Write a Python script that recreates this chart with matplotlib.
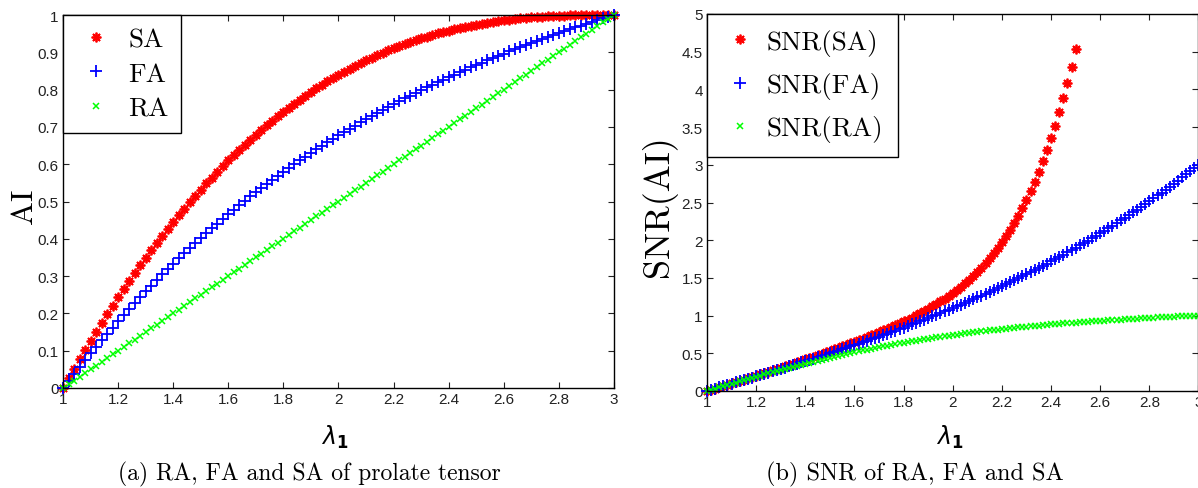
import numpy as np
import matplotlib
matplotlib.use('Agg')
import matplotlib.pyplot as plt
from matplotlib.ticker import FormatStrFormatter

# ---- values ----
# (a) anisotropy indices of a prolate tensor, sampled every 0.02 in lambda_1
lam_a = np.linspace(1, 3, 101)
sa = [0, .0262, .0519, .0773, .1022, .1266, .1507, .1744, .1976, .2204,
      .2428, .2648, .2864, .3076, .3285, .3489, .3689, .3885, .4078, .4267,
      .4452, .4633, .4810, .4984, .5154, .5321, .5484, .5643, .5799, .5951,
      .6100, .6245, .6387, .6526, .6661, .6793, .6922, .7047, .7169, .7288,
      .7404, .7517, .7626, .7733, .7836, .7937, .8034, .8129, .8221, .8310,
      .8396, .8479, .8560, .8638, .8713, .8785, .8855, .8923, .8988, .9050,
      .9110, .9167, .9223, .9275, .9326, .9374, .9420, .9464, .9506, .9546,
      .9584, .9619, .9653, .9685, .9715, .9743, .9769, .9794, .9816, .9838,
      .9857, .9875, .9892, .9907, .9921, .9933, .9944, .9954, .9963, .9971,
      .9977, .9983, .9987, .9991, .9994, .9996, .9998, .9999, 1.0, 1.0, 1.0]
fa = [0, .0190, .0378, .0563, .0746, .0926, .1103, .1278, .1451, .1621,
      .1788, .1953, .2116, .2276, .2434, .2590, .2743, .2894, .3043, .3189,
      .3333, .3475, .3615, .3753, .3889, .4022, .4154, .4283, .4410, .4536,
      .4659, .4781, .4901, .5019, .5135, .5249, .5362, .5473, .5582, .5690,
      .5796, .5900, .6003, .6104, .6203, .6301, .6398, .6493, .6587, .6679,
      .6770, .6860, .6948, .7035, .7121, .7205, .7288, .7370, .7451, .7530,
      .7609, .7686, .7762, .7838, .7912, .7985, .8057, .8127, .8197, .8266,
      .8334, .8401, .8467, .8533, .8597, .8660, .8723, .8785, .8845, .8905,
      .8965, .9023, .9081, .9138, .9194, .9249, .9304, .9358, .9411, .9464,
      .9516, .9567, .9618, .9668, .9717, .9766, .9814, .9861, .9908, .9954, 1.0]
ra = [0.00, 0.01, 0.02, 0.03, 0.04, 0.05, 0.06, 0.07, 0.08, 0.09,
      0.10, 0.11, 0.12, 0.13, 0.14, 0.15, 0.16, 0.17, 0.18, 0.19,
      0.20, 0.21, 0.22, 0.23, 0.24, 0.25, 0.26, 0.27, 0.28, 0.29,
      0.30, 0.31, 0.32, 0.33, 0.34, 0.35, 0.36, 0.37, 0.38, 0.39,
      0.40, 0.41, 0.42, 0.43, 0.44, 0.45, 0.46, 0.47, 0.48, 0.49,
      0.50, 0.51, 0.52, 0.53, 0.54, 0.55, 0.56, 0.57, 0.58, 0.59,
      0.60, 0.61, 0.62, 0.63, 0.64, 0.65, 0.66, 0.67, 0.68, 0.69,
      0.70, 0.71, 0.72, 0.73, 0.74, 0.75, 0.76, 0.77, 0.78, 0.79,
      0.80, 0.81, 0.82, 0.83, 0.84, 0.85, 0.86, 0.87, 0.88, 0.89,
      0.90, 0.91, 0.92, 0.93, 0.94, 0.95, 0.96, 0.97, 0.98, 0.99, 1.00]

# (b) SNR of the indices, sampled every 1/60 in lambda_1 (SA stops at 2.5)
lam_b = np.linspace(1, 3, 121)
snr_sa = [0, .0165, .0331, .0498, .0665, .0834, .1003, .1173, .1344, .1516,
          .1689, .1863, .2037, .2213, .2389, .2566, .2744, .2923, .3102, .3283,
          .3465, .3647, .3830, .4015, .4200, .4387, .4574, .4763, .4953, .5144,
          .5337, .5531, .5726, .5923, .6122, .6323, .6526, .6731, .6939, .7150,
          .7363, .7580, .7800, .8025, .8253, .8487, .8726, .8970, .9221, .9478,
          .9744, 1.0017, 1.0300, 1.0592, 1.0895, 1.1210, 1.1538, 1.1880, 1.2237, 1.2610,
          1.3001, 1.3411, 1.3843, 1.4297, 1.4775, 1.5280, 1.5813, 1.6376, 1.6973, 1.7605,
          1.8275, 1.8985, 1.9739, 2.0540, 2.1391, 2.2296, 2.3258, 2.4281, 2.5368, 2.6525,
          2.7757, 2.9066, 3.0460, 3.1941, 3.3518, 3.5195, 3.6976, 3.8872, 4.0886, 4.3027, 4.5300]
snr_fa = [0, .0161, .0322, .0484, .0645, .0806, .0968, .1130, .1292, .1455,
          .1617, .1781, .1944, .2108, .2273, .2438, .2603, .2769, .2936, .3104,
          .3272, .3441, .3610, .3781, .3952, .4124, .4298, .4472, .4647, .4823,
          .5000, .5179, .5358, .5539, .5721, .5904, .6088, .6274, .6461, .6650,
          .6840, .7031, .7224, .7419, .7615, .7813, .8012, .8213, .8416, .8621,
          .8827, .9036, .9246, .9458, .9672, .9888, 1.0106, 1.0327, 1.0549, 1.0773,
          1.1000, 1.1229, 1.1460, 1.1694, 1.1929, 1.2167, 1.2408, 1.2651, 1.2896, 1.3144,
          1.3395, 1.3648, 1.3904, 1.4162, 1.4423, 1.4687, 1.4954, 1.5223, 1.5496, 1.5771,
          1.6049, 1.6330, 1.6614, 1.6901, 1.7192, 1.7485, 1.7781, 1.8081, 1.8384, 1.8690,
          1.8999, 1.9312, 1.9628, 1.9948, 2.0271, 2.0597, 2.0927, 2.1261, 2.1598, 2.1939,
          2.2283, 2.2631, 2.2983, 2.3339, 2.3698, 2.4061, 2.4429, 2.4800, 2.5175, 2.5554,
          2.5937, 2.6324, 2.6715, 2.7111, 2.7510, 2.7914, 2.8322, 2.8735, 2.9151, 2.9573, 3.0000]
snr_ra = [0, .0160, .0319, .0478, .0637, .0796, .0954, .1112, .1269, .1426,
          .1581, .1736, .1890, .2043, .2195, .2345, .2495, .2643, .2790, .2935,
          .3079, .3222, .3363, .3503, .3640, .3777, .3911, .4044, .4175, .4305,
          .4432, .4558, .4682, .4804, .4924, .5042, .5159, .5273, .5386, .5497,
          .5606, .5713, .5819, .5922, .6024, .6124, .6222, .6318, .6413, .6505,
          .6596, .6686, .6773, .6859, .6944, .7026, .7107, .7187, .7265, .7341,
          .7416, .7490, .7562, .7632, .7701, .7769, .7835, .7900, .7964, .8027,
          .8088, .8148, .8207, .8264, .8320, .8376, .8430, .8483, .8535, .8586,
          .8636, .8685, .8733, .8780, .8826, .8871, .8915, .8958, .9001, .9042,
          .9083, .9123, .9162, .9201, .9238, .9275, .9311, .9347, .9382, .9416,
          .9449, .9482, .9514, .9546, .9577, .9607, .9637, .9666, .9695, .9723,
          .9750, .9778, .9804, .9830, .9856, .9881, .9906, .9930, .9954, .9977, 1.0]

# MATLAB-ish look
plt.rcParams['font.family'] = 'Liberation Sans'
plt.rcParams['font.size'] = 11
plt.rcParams['xtick.direction'] = 'in'
plt.rcParams['ytick.direction'] = 'in'
plt.rcParams['xtick.top'] = True
plt.rcParams['ytick.right'] = True
plt.rcParams['xtick.major.size'] = 4.3
plt.rcParams['ytick.major.size'] = 4.3
plt.rcParams['xtick.major.pad'] = 3
plt.rcParams['ytick.major.pad'] = 3
plt.rcParams['xtick.color'] = '#222222'
plt.rcParams['ytick.color'] = '#222222'
plt.rcParams['axes.linewidth'] = 1.0

W, H = 1198, 489
fig = plt.figure(figsize=(W / 100, H / 100), dpi=100)
ax1 = fig.add_axes([63 / W, 1 - 389 / H, 551 / W, 373 / H])
ax2 = fig.add_axes([707 / W, 1 - 392 / H, 491.5 / W, 377 / H])

red, blue, green = '#ff0000', '#0000ff', '#00ff00'
star = (8, 2, 0)   # asterisk like matlab '*'
serif = 'cmr10'
sty_sa = dict(ls='none', marker=star, ms=7, mew=1.3, color=red, clip_on=False)
sty_fa = dict(ls='none', marker='+', ms=8, mew=1.3, color=blue, clip_on=False)
sty_ra = dict(ls='none', marker='x', ms=4.6, mew=1.1, color=green, clip_on=False)

###################### (a) ######################
ax1.plot(lam_a, sa, label='SA', **sty_sa)
ax1.plot(lam_a, fa, label='FA', **sty_fa)
ax1.plot(lam_a, ra, label='RA', **sty_ra)
ax1.set_xlim(1, 3)
ax1.set_ylim(0, 1)
ax1.set_xticks(np.arange(1, 3.01, 0.2))
ax1.set_yticks(np.arange(0, 1.01, 0.1))

leg1 = ax1.legend(loc='upper left', borderaxespad=0, fancybox=False, framealpha=1,
                  edgecolor='black', prop={'family': serif, 'size': 19.5},
                  borderpad=0.45, handlelength=1.55, handletextpad=0.4, labelspacing=0.4)
leg1.get_frame().set_linewidth(1.0)

###################### (b) ######################
ax2.plot(lam_b[:len(snr_sa)], snr_sa, label='SNR(SA)', **sty_sa)
ax2.plot(lam_b, snr_fa, label='SNR(FA)', **sty_fa)
ax2.plot(lam_b, snr_ra, label='SNR(RA)', **sty_ra)
ax2.set_xlim(1, 3)
ax2.set_ylim(0, 5)
ax2.set_xticks(np.arange(1, 3.01, 0.2))
ax2.set_yticks(np.arange(0, 5.01, 0.5))

leg2 = ax2.legend(loc='upper left', borderaxespad=0, fancybox=False, framealpha=1,
                  edgecolor='black', prop={'family': serif, 'size': 19.5},
                  borderpad=0.55, handlelength=1.35, handletextpad=0.3, labelspacing=0.6)
leg2.get_frame().set_linewidth(1.0)

for ax in (ax1, ax2):
    ax.xaxis.set_major_formatter(FormatStrFormatter('%g'))
    ax.yaxis.set_major_formatter(FormatStrFormatter('%g'))

# axis labels and captions
fig.text(24 / W, 1 - 206 / H, 'AI', family=serif, fontsize=23, rotation=90, ha='center', va='center')
fig.text(659 / W, 1 - 206 / H, 'SNR(AI)', family=serif, fontsize=26, rotation=90, ha='center', va='center')
for xc in (335, 950):
    fig.text(xc / W, 1 - 437 / H, r'$\lambda_{\mathbf{1}}$', math_fontfamily='dejavusans',
             fontsize=17, ha='center', va='center')
fig.text(118 / W, 1 - 474 / H, '(a) RA, FA and SA of prolate tensor', family=serif,
         fontsize=17, ha='left', va='center')
fig.text(766 / W, 1 - 474 / H, '(b) SNR of RA, FA and SA', family=serif,
         fontsize=17.5, ha='left', va='center')

plt.savefig('out.png', dpi=100)
